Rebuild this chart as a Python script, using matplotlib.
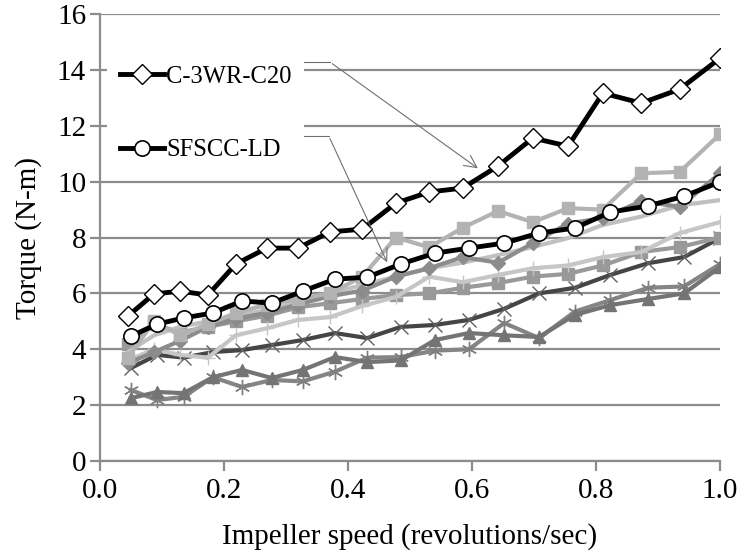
import matplotlib.pyplot as plt

plt.rcParams['font.family'] = ['Liberation Serif', 'DejaVu Serif']

# impeller speed (rev/s) - two slightly different sampling grids
speed_a = [0.045, 0.087, 0.129, 0.174, 0.219, 0.269, 0.319, 0.371, 0.423, 0.477,
           0.531, 0.585, 0.642, 0.698, 0.755, 0.811, 0.873, 0.935, 1.0]
speed_b = [0.050, 0.092, 0.135, 0.182, 0.229, 0.277, 0.327, 0.379, 0.431, 0.485,
           0.540, 0.595, 0.652, 0.708, 0.766, 0.823, 0.884, 0.942, 1.0]

# highlighted mixes
c3wr_c20 = [5.19, 5.98, 6.08, 5.94, 7.05, 7.62, 7.62, 8.2, 8.3, 9.23,
            9.63, 9.77, 10.56, 11.56, 11.27, 13.17, 12.81, 13.31, 14.42]
sfscc_ld = [4.47, 4.9, 5.12, 5.3, 5.73, 5.65, 6.08, 6.51, 6.58, 7.05,
            7.44, 7.62, 7.8, 8.16, 8.34, 8.91, 9.13, 9.48, 9.99]

# other mixes (unlabelled, grey)
mix_a = [3.7, 5.0, 4.5, 4.9, 5.3, 5.6, 5.8, 6.0, 6.6, 8.0,
         7.65, 8.35, 8.95, 8.55, 9.05, 9.0, 10.3, 10.35, 11.7]
mix_b = [3.5, 3.9, 4.3, 4.8, 5.1, 5.3, 5.6, 5.9, 6.1, 6.6,
         6.9, 7.3, 7.1, 7.8, 8.5, 8.7, 9.3, 9.1, 10.3]
mix_c = [3.9, 4.5, 4.8, 5.0, 5.2, 5.4, 5.7, 6.0, 6.3, 6.6,
         6.9, 7.1, 7.37, 7.66, 7.98, 8.45, 8.75, 9.15, 9.34]
mix_d = [3.6, 4.0, 3.8, 3.7, 4.5, 4.75, 5.05, 5.15, 5.55, 5.87,
         6.6, 6.4, 6.66, 6.9, 7.0, 7.3, 7.48, 8.16, 8.55]
mix_e = [4.2, 4.9, 4.6, 4.8, 5.0, 5.2, 5.5, 5.65, 5.8, 5.94,
         6.0, 6.2, 6.37, 6.6, 6.7, 7.0, 7.48, 7.66, 8.0]
mix_f = [3.33, 3.8, 3.7, 3.9, 3.97, 4.15, 4.33, 4.58, 4.4, 4.8,
         4.87, 5.05, 5.45, 6.0, 6.2, 6.66, 7.08, 7.3, 7.98]
mix_g = [2.25, 2.47, 2.43, 3.0, 3.26, 2.97, 3.26, 3.72, 3.54, 3.6,
         4.33, 4.58, 4.5, 4.44, 5.23, 5.58, 5.8, 6.0, 6.94]
mix_h = [2.54, 2.18, 2.3, 3.0, 2.65, 2.9, 2.85, 3.2, 3.7, 3.72,
         3.95, 4.0, 4.94, 4.4, 5.35, 5.76, 6.2, 6.25, 7.05]

fig = plt.figure(figsize=(7.41, 5.59), dpi=100)
ax = fig.add_axes([0.135, 0.1753, 0.8367, 0.7996])

grey = '#8c8c8c'

ax.plot(speed_b, mix_h, color='#858585', lw=3, marker=(6, 2, 0), ms=11, mew=1, mec='#808080')
ax.plot(speed_b, mix_g, color='#747474', lw=3, marker='^', ms=9, mec='#747474')
ax.plot(speed_b, mix_f, color='#454545', lw=3, marker='x', ms=10, mew=1, mec='#606060')
ax.plot(speed_a, mix_e, color='#999999', lw=3, marker='s', ms=8, mec='#999999')
ax.plot(speed_a, mix_d, color='#c6c6c6', lw=3, marker='+', ms=10, mew=1, mec='#c6c6c6')
ax.plot(speed_a, mix_c, color='#c0c0c0', lw=3)
ax.plot(speed_a, mix_b, color='#8c8c8c', lw=3, marker='D', ms=7, mec='#8c8c8c')
ax.plot(speed_a, mix_a, color='#b3b3b3', lw=3, marker='s', ms=8, mec='#b3b3b3')

l1, = ax.plot(speed_a, c3wr_c20, color='black', lw=3.5, marker='D', ms=10,
              mfc='white', mec='black', mew=1, label='C-3WR-C20')
l2, = ax.plot(speed_b, sfscc_ld, color='black', lw=3.5, marker='o', ms=11,
              mfc='white', mec='black', mew=1.2, label='SFSCC-LD')

ax.set_xlim(0, 1.0)
ax.set_ylim(0, 16)
ax.set_xticks([0.0, 0.2, 0.4, 0.6, 0.8, 1.0])
ax.set_xticklabels(['0.0', '0.2', '0.4', '0.6', '0.8', '1.0'])
ax.set_yticks(range(0, 17, 2))

ax.grid(axis='y', color=grey, lw=1.6)
ax.set_axisbelow(True)
for side in ['top', 'right']:
    ax.spines[side].set_visible(False)
for side in ['left', 'bottom']:
    ax.spines[side].set_color(grey)
    ax.spines[side].set_linewidth(1.6)
ax.tick_params(colors=grey, width=1.6, length=7, labelsize=21, labelcolor='black')
ax.tick_params(axis='x', pad=5)
ax.tick_params(axis='y', pad=3)

ax.set_xlabel('Impeller speed (revolutions/sec)', fontsize=21, labelpad=14)
ax.set_ylabel('Torque (N-m)', fontsize=21, labelpad=11)

leg = ax.legend(handles=[l1, l2], loc='upper left', bbox_to_anchor=(-0.008, 0.94),
                fontsize=17.7, frameon=True, fancybox=False, edgecolor='none',
                framealpha=1, handlelength=1.8, handletextpad=0.1,
                labelspacing=2.1, borderpad=0.5)

# leader lines from the legend entries to their curves
arrow = dict(arrowstyle='->', color='#707070', lw=0.8, mutation_scale=22)
ax.plot([0.326, 0.371], [14.28, 14.28], color='#707070', lw=0.8)
ax.annotate('', xy=(0.613, 10.42), xytext=(0.371, 14.28), arrowprops=arrow)
ax.plot([0.303, 0.369], [11.63, 11.63], color='#707070', lw=0.8)
ax.annotate('', xy=(0.465, 7.02), xytext=(0.369, 11.63), arrowprops=arrow)

fig.savefig('out.png', dpi=100)
